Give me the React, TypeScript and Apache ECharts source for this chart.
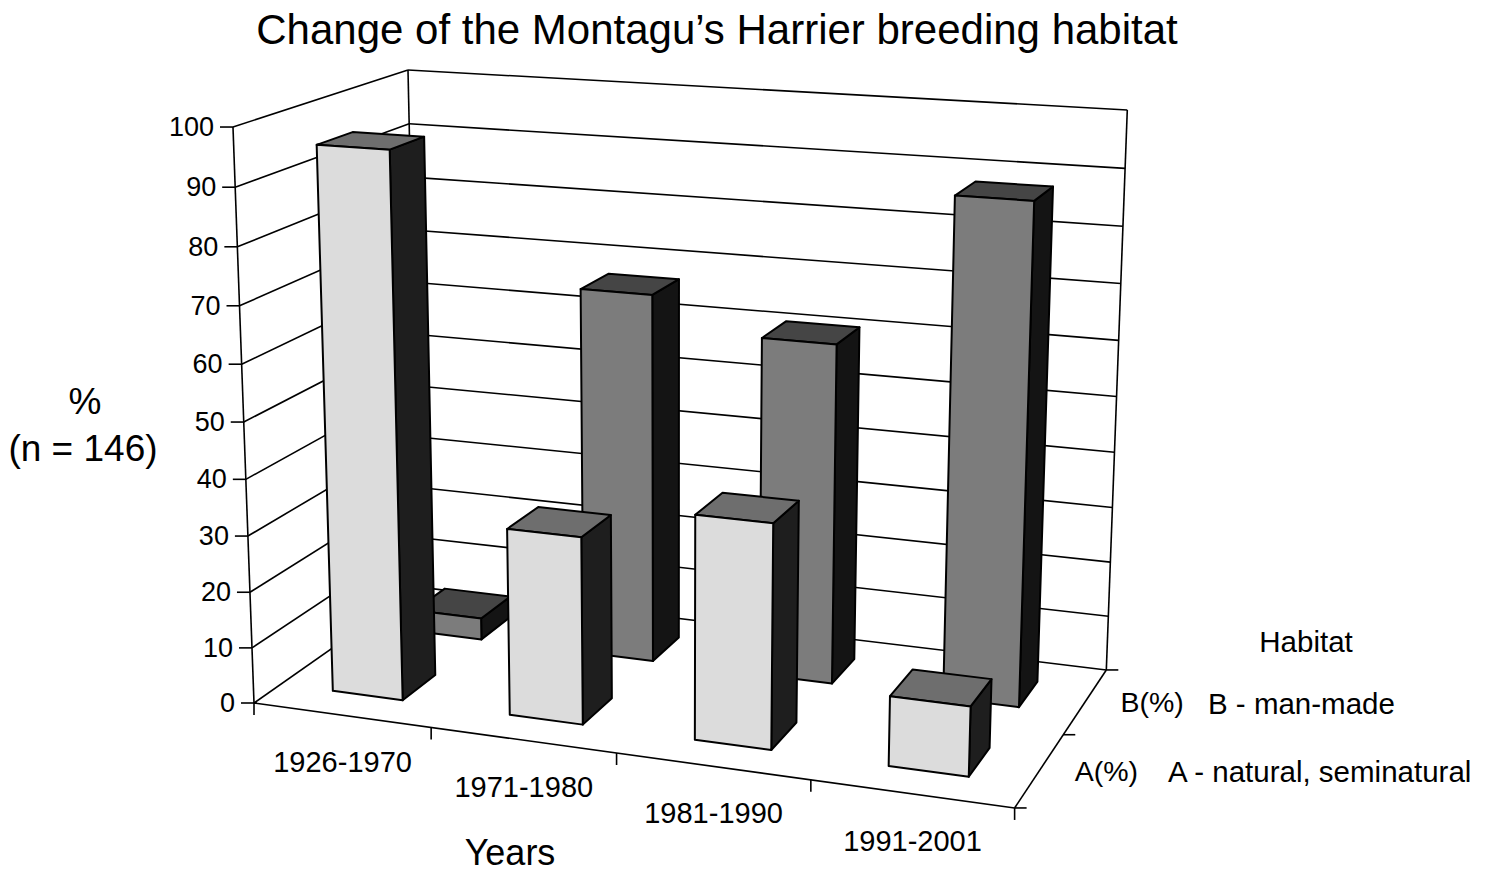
import React, { useEffect, useRef } from 'react';
import * as echarts from 'echarts';

// ---------- data ----------
const chartTitle = 'Change of the Montagu\u2019s Harrier breeding habitat';
const categories = ['1926-1970', '1971-1980', '1981-1990', '1991-2001'];
const naturalA = [96, 33, 39, 12];
const manMadeB = [4, 67, 61, 88];
const valueTicks = [0, 10, 20, 30, 40, 50, 60, 70, 80, 90, 100];
const depthLabels = ['A(%)', 'B(%)'];
const legendTitle = 'Habitat';
const legendTexts = ['A - natural, seminatural', 'B - man-made'];
const yTitleLines = ['%', '(n = 146)'];
const xTitle = 'Years';
const Y_MAX = 100;

// ---------- 3D perspective camera (screen projection) ----------
const ORIGIN = [254, 703];
const VP_X = [-7522, -370];
const VP_Y = [674, 12212];
const VP_Z = [1808, -386];
const LX = -0.0891;
const LY = -0.04766;
const LZ = 0.11905;

function P(x: number, y: number, z: number): number[] {
  const hx = ORIGIN[0] + LX * VP_X[0] * x + LY * VP_Y[0] * y + LZ * VP_Z[0] * z;
  const hy = ORIGIN[1] + LX * VP_X[1] * x + LY * VP_Y[1] * y + LZ * VP_Z[1] * z;
  const w = 1 + LX * x + LY * y + LZ * z;
  return [hx / w, hy / w];
}

const BAR_FRAC = 0.4;
const ROW_DEPTH = 0.2;
const FONT = '"Liberation Sans", Arial, Helvetica, sans-serif';

const colorsA = { front: '#dcdcdc', top: '#6e6e6e', side: '#1e1e1e' };
const colorsB = { front: '#7c7c7c', top: '#454545', side: '#141414' };

function makeRenderItem(row: number, col: { front: string; top: string; side: string }) {
  return (params: any, api: any) => {
    const cs = params.coordSys;
    const cat = api.value(0);
    const val = api.value(1);
    const topPt = api.coord([cat, val]);
    const bw = api.size([1, 0])[0];
    const xc = (topPt[0] - cs.x) / cs.width;
    const slot = bw / cs.width;
    const Y = (cs.y + cs.height - topPt[1]) / cs.height;
    const x0 = xc - (slot * BAR_FRAC) / 2;
    const x1 = xc + (slot * BAR_FRAC) / 2;
    const zc = (row + 0.5) / 2;
    const z0 = zc - ROW_DEPTH / 2;
    const z1 = zc + ROW_DEPTH / 2;
    const st = (fill: string) => ({ fill, stroke: '#000', lineWidth: 2, lineJoin: 'round' });
    return {
      type: 'group',
      children: [
        {
          type: 'polygon',
          shape: { points: [P(x1, 0, z0), P(x1, 0, z1), P(x1, Y, z1), P(x1, Y, z0)] },
          style: st(col.side),
        },
        {
          type: 'polygon',
          shape: { points: [P(x0, Y, z0), P(x1, Y, z0), P(x1, Y, z1), P(x0, Y, z1)] },
          style: st(col.top),
        },
        {
          type: 'polygon',
          shape: { points: [P(x0, 0, z0), P(x1, 0, z0), P(x1, Y, z0), P(x0, Y, z0)] },
          style: st(col.front),
        },
      ],
    };
  };
}

function line(a: number[], b: number[], w = 1.6) {
  return {
    type: 'line',
    shape: { x1: a[0], y1: a[1], x2: b[0], y2: b[1] },
    style: { stroke: '#000', lineWidth: w },
    silent: true,
  };
}

function text(str: string, x: number, y: number, size: number, align = 'center', vAlign = 'middle') {
  return {
    type: 'text',
    x,
    y,
    style: { text: str, fill: '#000', font: `${size}px ${FONT}`, align, verticalAlign: vAlign },
    silent: true,
  };
}

function buildFrame() {
  const els: any[] = [];
  // gridlines on left wall and back wall
  valueTicks.forEach((t) => {
    const y = t / Y_MAX;
    els.push(line(P(0, y, 0), P(0, y, 1)));
    els.push(line(P(0, y, 1), P(1, y, 1)));
  });
  // back wall verticals
  els.push(line(P(0, 0, 1), P(0, 1, 1)));
  els.push(line(P(1, 0, 1), P(1, 1, 1)));
  // front-left value axis
  els.push(line(P(0, 0, 0), P(0, 1, 0)));
  // floor front edge and right edge
  els.push(line(P(0, 0, 0), P(1, 0, 0)));
  els.push(line(P(1, 0, 0), P(1, 0, 1)));
  // value ticks + labels
  valueTicks.forEach((t) => {
    const p = P(0, t / Y_MAX, 0);
    els.push(line([p[0] - 13, p[1]], [p[0] + (t === 0 ? 3 : 0), p[1]]));
    els.push(text(String(t), p[0] - 19, p[1], 27, 'right'));
  });
  // category ticks
  for (let i = 0; i <= categories.length; i++) {
    const p = P(i / categories.length, 0, 0);
    els.push(line(p, [p[0], p[1] + 12]));
  }
  // category labels
  categories.forEach((c, i) => {
    const p = P((i + 0.5) / categories.length, 0, 0);
    els.push(text(c, p[0] + 1, p[1] + 47, 29));
  });
  // depth ticks
  for (let j = 0; j <= depthLabels.length; j++) {
    const p = P(1, 0, j / depthLabels.length);
    els.push(line(p, [p[0] + 12, p[1]]));
  }
  // depth labels
  depthLabels.forEach((d, j) => {
    const p = P(1, 0, (j + 0.5) / depthLabels.length);
    els.push(text(d, p[0] + 35, p[1] + 1, 28.5, 'left'));
  });
  // legend-like descriptions
  els.push(text(legendTitle, 1306, 641, 29.5));
  els.push(text(legendTexts[1], 1208, 703, 29.5, 'left'));
  els.push(text(legendTexts[0], 1168, 771, 29.5, 'left'));
  // axis titles
  els.push(text(yTitleLines[0], 85, 401, 37));
  els.push(text(yTitleLines[1], 83, 448, 37));
  els.push(text(xTitle, 510, 852, 36));
  // title
  els.push(text(chartTitle, 717, 29, 42));
  return els;
}

export default function App() {
  const ref = useRef<HTMLDivElement>(null);
  useEffect(() => {
    if (!ref.current) return;
    const chart = echarts.init(ref.current, undefined, { renderer: 'svg' });
    chart.setOption({
      animation: false,
      backgroundColor: '#ffffff',
      grid: { left: 0, top: 0, width: 400, height: 400, show: false },
      xAxis: { type: 'category', data: categories, show: false },
      yAxis: { type: 'value', min: 0, max: Y_MAX, show: false },
      graphic: { elements: buildFrame() },
      series: [
        {
          name: 'B - man-made',
          type: 'custom',
          coordinateSystem: 'cartesian2d',
          renderItem: makeRenderItem(1, colorsB),
          data: manMadeB.map((v, i) => [i, v]),
          encode: { x: 0, y: 1 },
          clip: false,
          z: 3,
          silent: true,
        },
        {
          name: 'A - natural, seminatural',
          type: 'custom',
          coordinateSystem: 'cartesian2d',
          renderItem: makeRenderItem(0, colorsA),
          data: naturalA.map((v, i) => [i, v]),
          encode: { x: 0, y: 1 },
          clip: false,
          z: 4,
          silent: true,
        },
      ],
    });
    return () => chart.dispose();
  }, []);
  return (
    <div
      ref={ref}
      style={{ position: 'fixed', left: 0, top: 0, width: 1492, height: 873, background: '#fff' }}
    />
  );
}
